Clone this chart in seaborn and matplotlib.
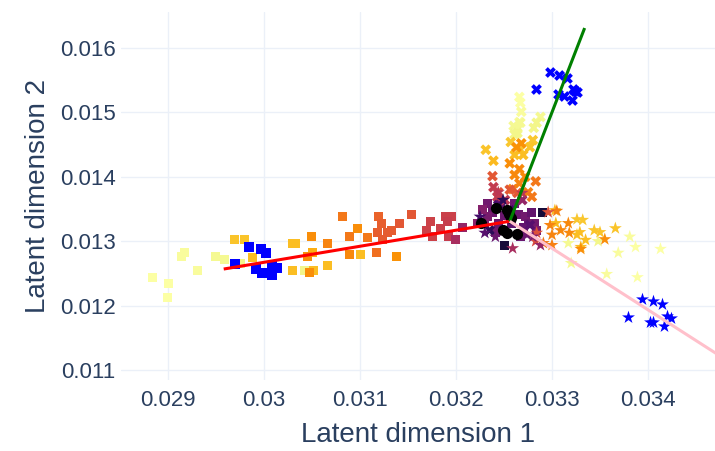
import pandas as pd
import matplotlib.pyplot as plt
import seaborn as sns

# ---- data ----
# left arm (squares), colour value t in 0..1 (inferno)
sq_x = [0.02884, 0.02900, 0.02899, 0.02914, 0.02917, 0.02931, 0.02949, 0.02959, 0.02976, 0.03042,
        0.02969, 0.02980, 0.02988, 0.03030, 0.03033, 0.03030, 0.03051, 0.03052, 0.03066, 0.03101,
        0.03047, 0.03045, 0.03049, 0.03066, 0.03082, 0.03089, 0.03097, 0.03108, 0.03089, 0.03138, 0.03117,
        0.03119, 0.03122, 0.03118, 0.03123, 0.03129, 0.03133, 0.03141, 0.03154,
        0.03173, 0.03169, 0.03176, 0.03184, 0.03189, 0.03195, 0.03191, 0.03192, 0.03199, 0.03207,
        0.03233, 0.03238, 0.03233, 0.03230, 0.03222, 0.03246, 0.03261, 0.03265, 0.03272, 0.03279,
        0.03275, 0.03270, 0.03258, 0.03244, 0.03241, 0.03267, 0.03282, 0.03284,
        0.03251, 0.03290, 0.03250, 0.03228]
sq_y = [0.01243, 0.01235, 0.01212, 0.01276, 0.01283, 0.01254, 0.01277, 0.01272, 0.01265, 0.01255,
        0.01303, 0.01303, 0.01274, 0.01297, 0.01297, 0.01254, 0.01283, 0.01254, 0.01262, 0.01280,
        0.01251, 0.01277, 0.01308, 0.01296, 0.01338, 0.01308, 0.01320, 0.01305, 0.01279, 0.01276, 0.01283,
        0.01339, 0.01327, 0.01313, 0.01302, 0.01313, 0.01317, 0.01328, 0.01341,
        0.01331, 0.01316, 0.01307, 0.01319, 0.01339, 0.01338, 0.01330, 0.01307, 0.01302, 0.01322,
        0.01359, 0.01344, 0.01338, 0.01328, 0.01328, 0.01359, 0.01359, 0.01341, 0.01338, 0.01344,
        0.01328, 0.01321, 0.01328, 0.01328, 0.01314, 0.01307, 0.01328, 0.01317,
        0.01293, 0.01345, 0.01340, 0.01350]
sq_t = [1.00, 1.00, 1.00, 0.99, 0.99, 0.99, 0.98, 0.98, 0.97, 0.97,
        0.86, 0.86, 0.85, 0.85, 0.85, 0.85, 0.82, 0.85, 0.85, 0.85,
        0.75, 0.75, 0.75, 0.73, 0.70, 0.70, 0.75, 0.70, 0.74, 0.76, 0.68,
        0.65, 0.64, 0.64, 0.63, 0.63, 0.63, 0.62, 0.62,
        0.55, 0.55, 0.55, 0.54, 0.54, 0.54, 0.53, 0.53, 0.45, 0.40,
        0.32, 0.30, 0.33, 0.35, 0.38, 0.28, 0.30, 0.30, 0.32, 0.28,
        0.30, 0.28, 0.26, 0.30, 0.32, 0.30, 0.32, 0.34,
        0.10, 0.10, 0.30, 0.36]

# upper arm (crosses)
cr_x = [0.03266, 0.03267, 0.03268, 0.03266, 0.03264, 0.03260, 0.03288, 0.03284, 0.03281, 0.03261, 0.03267, 0.03264,
        0.03257, 0.03280, 0.03277, 0.03267, 0.03261, 0.03270, 0.03231, 0.03239,
        0.03268, 0.03263, 0.03256, 0.03266, 0.03261, 0.03272, 0.03266, 0.03259, 0.03283, 0.03275, 0.03279,
        0.03238, 0.03244, 0.03256, 0.03264,
        0.03239, 0.03243, 0.03251,
        0.03244, 0.03269, 0.03256, 0.03277, 0.03235]
cr_y = [0.01524, 0.01515, 0.01501, 0.01485, 0.01474, 0.01479, 0.01493, 0.01484, 0.01476, 0.01466, 0.01484, 0.01468,
        0.01454, 0.01457, 0.01446, 0.01442, 0.01434, 0.01434, 0.01442, 0.01425,
        0.01452, 0.01446, 0.01421, 0.01412, 0.01403, 0.01400, 0.01390, 0.01381, 0.01393, 0.01376, 0.01369,
        0.01401, 0.01376, 0.01380, 0.01375,
        0.01384, 0.01369, 0.01364,
        0.01356, 0.01364, 0.01348, 0.01325, 0.01317]
cr_t = [1.00, 1.00, 0.99, 0.99, 0.98, 0.98, 0.98, 0.97, 0.97, 0.97, 0.98, 0.97,
        0.87, 0.87, 0.86, 0.86, 0.85, 0.85, 0.86, 0.84,
        0.76, 0.76, 0.75, 0.74, 0.74, 0.74, 0.73, 0.72, 0.70, 0.72, 0.70,
        0.62, 0.62, 0.62, 0.62,
        0.52, 0.52, 0.50,
        0.22, 0.40, 0.20, 0.25, 0.15]

# lower-right arm (stars)
st_x = [0.03413, 0.03387, 0.03381, 0.03369, 0.03389, 0.03357, 0.03320, 0.03317, 0.03348,
        0.03326, 0.03332, 0.03366, 0.03344, 0.03350, 0.03335, 0.03329, 0.03326, 0.03330, 0.03304, 0.03303,
        0.03355, 0.03330, 0.03317, 0.03309, 0.03318, 0.03300, 0.03298, 0.03305, 0.03300, 0.03291,
        0.03284, 0.03296, 0.03283,
        0.03259, 0.03225, 0.03230, 0.03241, 0.03274, 0.03280, 0.03269, 0.03244, 0.03249, 0.03288]
st_y = [0.01288, 0.01291, 0.01307, 0.01282, 0.01244, 0.01249, 0.01266, 0.01297, 0.01300,
        0.01334, 0.01333, 0.01320, 0.01317, 0.01314, 0.01302, 0.01314, 0.01310, 0.01291, 0.01328, 0.01348,
        0.01303, 0.01288, 0.01328, 0.01317, 0.01313, 0.01310, 0.01325, 0.01347, 0.01294, 0.01297,
        0.01313, 0.01345, 0.01300,
        0.01289, 0.01338, 0.01313, 0.01307, 0.01310, 0.01307, 0.01375, 0.01376, 0.01364, 0.01294]
st_t = [1.00, 1.00, 0.99, 0.99, 1.00, 0.99, 0.98, 0.98, 0.97,
        0.87, 0.87, 0.86, 0.86, 0.86, 0.85, 0.85, 0.85, 0.85, 0.84, 0.84,
        0.75, 0.75, 0.74, 0.74, 0.74, 0.73, 0.73, 0.72, 0.72, 0.70,
        0.60, 0.60, 0.58,
        0.45, 0.20, 0.25, 0.30, 0.30, 0.35, 0.50, 0.50, 0.15, 0.40]

# blue end clusters
blue_sq_x = [0.02984, 0.02997, 0.03002, 0.02970, 0.02992, 0.02998, 0.03008, 0.03014, 0.03008]
blue_sq_y = [0.01291, 0.01288, 0.01282, 0.01265, 0.01257, 0.01251, 0.01262, 0.01258, 0.01248]
blue_cr_x = [0.03298, 0.03307, 0.03316, 0.03283, 0.03306, 0.03313, 0.03322, 0.03326, 0.03324, 0.03321]
blue_cr_y = [0.01563, 0.01558, 0.01553, 0.01536, 0.01529, 0.01525, 0.01536, 0.01532, 0.01533, 0.01519]
blue_st_x = [0.03394, 0.03405, 0.03415, 0.03379, 0.03420, 0.03424, 0.03402, 0.03405, 0.03417]
blue_st_y = [0.01210, 0.01207, 0.01202, 0.01182, 0.01184, 0.01181, 0.01175, 0.01175, 0.01168]

# root cells (black circles)
root_x = [0.03242, 0.03253, 0.03255, 0.03226, 0.03249, 0.03253, 0.03264, 0.03257]
root_y = [0.01352, 0.01348, 0.01342, 0.01328, 0.01317, 0.01313, 0.01311, 0.01336]

# branch lines, from the branch point outwards
branch_x = [0.03256, 0.03256, 0.03256]
branch_y = [0.01331, 0.01331, 0.01331]
end_x = [0.02958, 0.03334, 0.03500]
end_y = [0.012568, 0.01631, 0.01098]
branch_colors = ['red', 'green', 'pink']

xticks = [0.029, 0.030, 0.031, 0.032, 0.033, 0.034]
xtick_labels = ['0.029', '0.03', '0.031', '0.032', '0.033', '0.034']
yticks = [0.011, 0.012, 0.013, 0.014, 0.015, 0.016]
ytick_labels = ['0.011', '0.012', '0.013', '0.014', '0.015', '0.016']

# ---- plot ----
sns.set_style('white')
plt.rcParams['font.family'] = ['Liberation Sans', 'DejaVu Sans']
text_col = '#2a3f5f'

fig = plt.figure(figsize=(7.15, 4.51), dpi=100)
ax = fig.add_axes([121 / 715, 1 - 380 / 451, 594 / 715, 368 / 451])

sq = pd.DataFrame({'x': sq_x, 'y': sq_y, 't': sq_t})
cr = pd.DataFrame({'x': cr_x, 'y': cr_y, 't': cr_t})
st = pd.DataFrame({'x': st_x, 'y': st_y, 't': st_t})

common = dict(hue='t', palette='inferno', hue_norm=(0, 1), legend=False, linewidth=0, ax=ax)
sns.scatterplot(data=sq, x='x', y='y', marker='s', s=42, **common)
sns.scatterplot(data=cr, x='x', y='y', marker='X', s=60, **common)
sns.scatterplot(data=st, x='x', y='y', marker='*', s=95, **common)

sns.scatterplot(x=blue_sq_x, y=blue_sq_y, marker='s', s=42, color='blue', linewidth=0, ax=ax)
sns.scatterplot(x=blue_cr_x, y=blue_cr_y, marker='X', s=60, color='blue', linewidth=0, ax=ax)
sns.scatterplot(x=blue_st_x, y=blue_st_y, marker='*', s=95, color='blue', linewidth=0, ax=ax)
sns.scatterplot(x=root_x, y=root_y, marker='o', s=65, color='black', linewidth=0, ax=ax)

for bx, by, ex, ey, c in zip(branch_x, branch_y, end_x, end_y, branch_colors):
    ax.plot([bx, ex], [by, ey], color=c, lw=2.2, solid_capstyle='butt', zorder=5)

ax.set_xlim(0.02851, 0.034698)
ax.set_ylim(0.010845, 0.016559)
ax.set_xticks(xticks)
ax.set_xticklabels(xtick_labels)
ax.set_yticks(yticks)
ax.set_yticklabels(ytick_labels)
ax.tick_params(axis='both', length=0, labelsize=16, labelcolor=text_col)
ax.tick_params(axis='x', pad=7)
ax.tick_params(axis='y', pad=4)
ax.grid(True, color='#ebf0f8', lw=1)
ax.set_axisbelow(True)
for sp in ax.spines.values():
    sp.set_visible(False)

ax.set_xlabel('Latent dimension 1', fontsize=20, color=text_col, labelpad=8)
ax.set_ylabel('Latent dimension 2', fontsize=20, color=text_col, labelpad=6)

fig.savefig('out.png', dpi=100)
